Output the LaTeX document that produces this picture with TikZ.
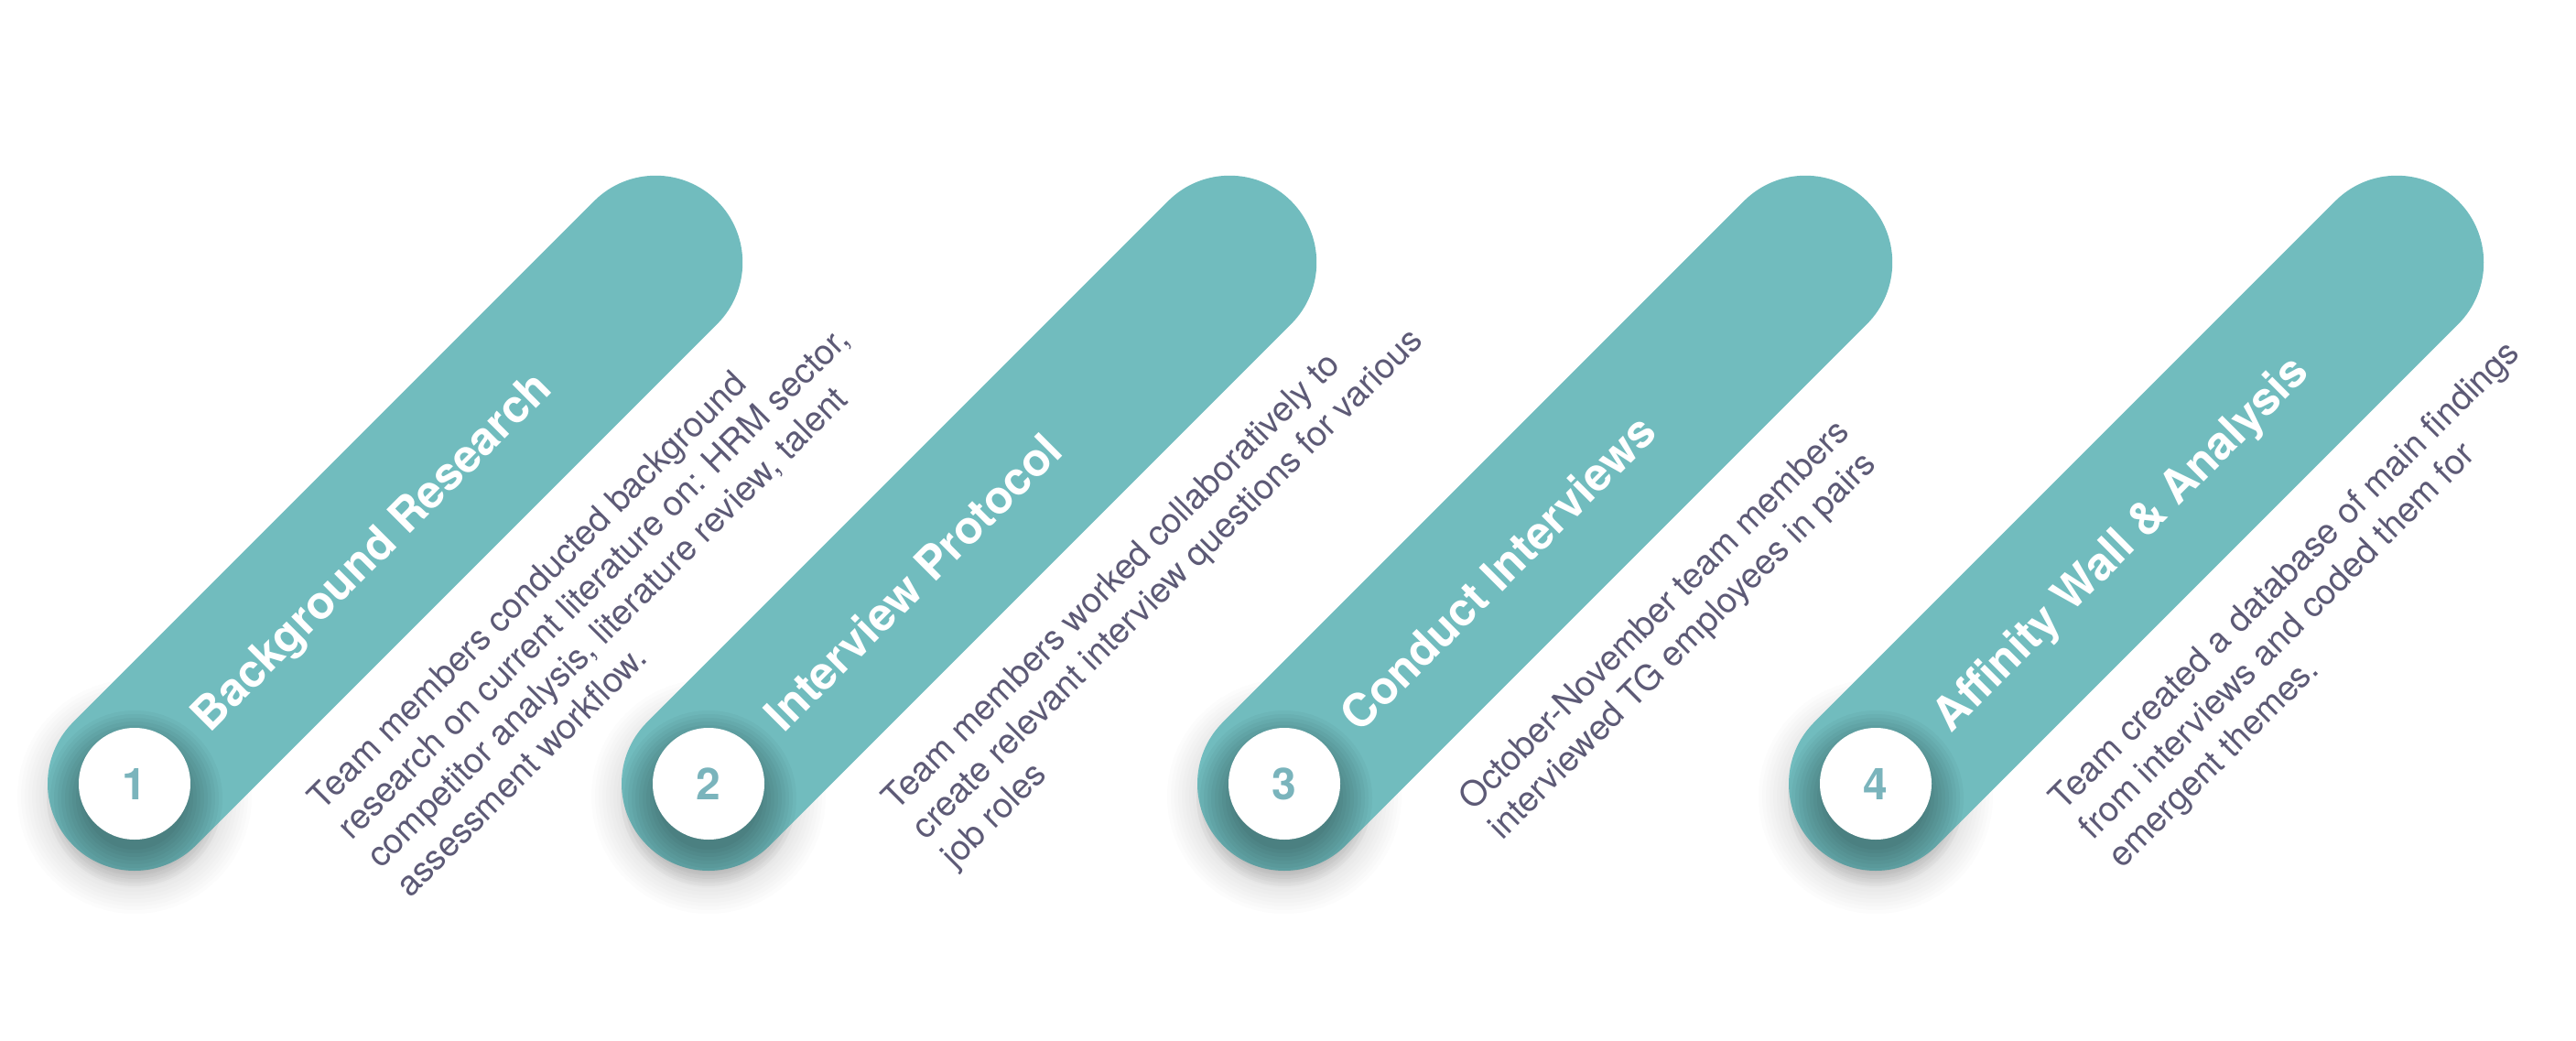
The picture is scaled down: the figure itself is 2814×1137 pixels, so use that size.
\documentclass[tikz,border=0pt]{standalone}
\usepackage{fontspec}
\setmainfont{TeX Gyre Heros}
\definecolor{pillteal}{HTML}{71BCBE}
\definecolor{numteal}{HTML}{7AB4BC}
\definecolor{desccol}{HTML}{5D5A76}
\tikzset{
  pillbody/.style={fill=pillteal},
  softshade/.style={fill=black, opacity=#1},
  numcircle/.style={circle, fill=white, minimum size=122pt, inner sep=0pt, text=numteal,
    font=\fontsize{48}{48}\selectfont\bfseries},
  titletext/.style={text=white, font=\fontsize{50}{58}\selectfont\bfseries, rotate=45, anchor=base west, inner sep=0pt},
  desctext/.style={text=desccol, font=\fontsize{38}{45}\selectfont, rotate=45, anchor=north west, inner sep=0pt, align=left},
}
\newcommand\pillstep[5]{%
  % soft outer shadow under the lower cap
  \begin{scope}[shift={(#2,-870)}]
    \foreach \r in {84,88,...,128} {\fill[softshade=0.011] (0,0) circle[radius=\r pt];}
  \end{scope}
  \begin{scope}[shift={(#2,-856)}, rotate=45]
    \path[pillbody] (0,-95) -- (805,-95) arc[start angle=-90, end angle=90, radius=95pt] -- (0,95) arc[start angle=90, end angle=270, radius=95pt] -- cycle;
    \node[titletext] (title#1) at (97,-20) {#4};
    \node[desctext] (desc#1) at (124,-139) {#5};
  \end{scope}
  % shadow of the number disc on the pill
  \begin{scope}[shift={(#2,-872)}]
    \foreach \r in {56,60,...,96} {\fill[softshade=0.033] (0,0) circle[radius=\r pt];}
  \end{scope}
  \node[numcircle] (num#1) at (#2,-856) {#3};
}
\begin{document}
\begin{tikzpicture}[x=1pt,y=1pt]
\useasboundingbox (0,0) rectangle (2814,-1137);
\fill[white] (0,0) rectangle (2814,-1137);
\pillstep{1}{147}{1}{Background Research}{Team members conducted background\\research on current literature on: HRM sector,\\competitor analysis, literature review, talent\\assessment workflow.}
\pillstep{2}{774}{2}{Interview Protocol}{Team members worked collaboratively to\\create relevant interview questions for various\\job roles}
\pillstep{3}{1403}{3}{Conduct Interviews}{October-November team members\\interviewed TG employees in pairs}
\pillstep{4}{2049}{4}{Affinity Wall \& Analysis}{Team created a database of main findings\\from interviews and coded them for\\emergent themes.}
\end{tikzpicture}
\end{document}
